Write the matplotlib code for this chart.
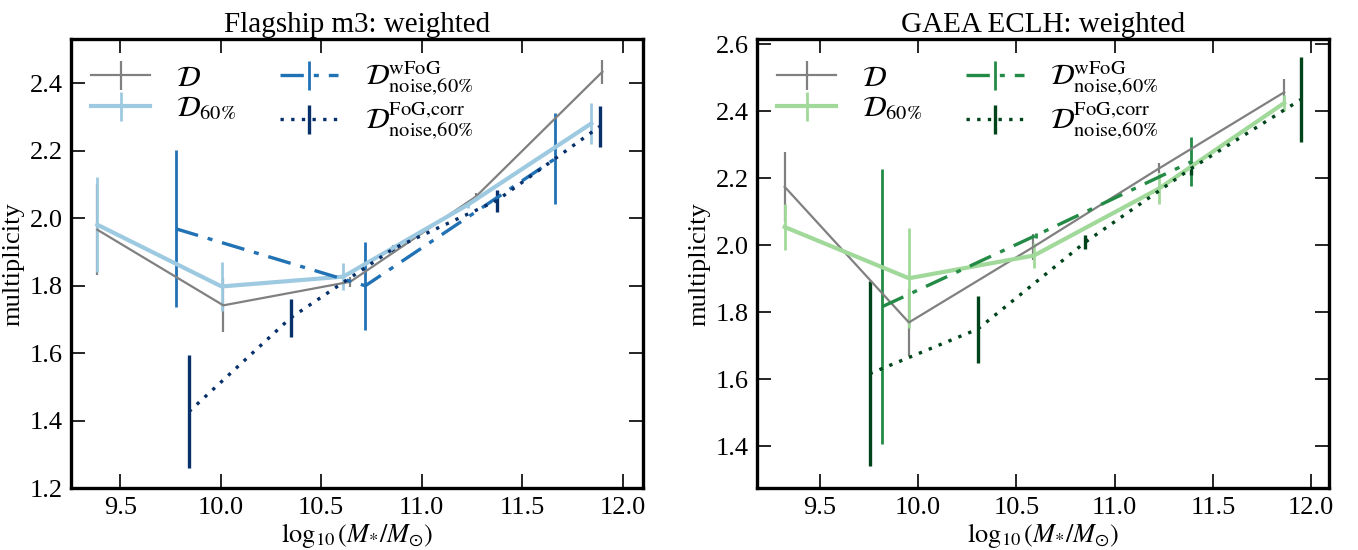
import matplotlib
matplotlib.use("Agg")
import matplotlib.pyplot as plt

plt.rcParams['font.family'] = 'serif'
plt.rcParams['font.serif'] = ['Liberation Serif', 'DejaVu Serif']
plt.rcParams['mathtext.fontset'] = 'stix'

# Flagship m3 (weighted)
fs_x_D = [9.386, 10.013, 10.645, 11.27, 11.90]
fs_y_D = [1.966, 1.742, 1.812, 2.064, 2.434]
fs_e_D = [0.135, 0.08, 0.015, 0.012, 0.036]

fs_x_D60 = [9.386, 10.004, 10.61, 11.23, 11.845]
fs_y_D60 = [1.981, 1.798, 1.827, 2.04, 2.281]
fs_e_D60 = [0.14, 0.072, 0.04, 0.01, 0.06]

fs_x_wfog = [9.776, 10.72, 11.666]
fs_y_wfog = [1.969, 1.80, 2.177]
fs_e_wfog = [0.233, 0.131, 0.135]

fs_x_corr = [9.842, 10.348, 10.86, 11.373, 11.887]
fs_y_corr = [1.427, 1.705, 1.91, 2.052, 2.272]
fs_e_corr = [0.167, 0.056, 0.01, 0.032, 0.062]

# GAEA ECLH (weighted)
ga_x_D = [9.321, 9.953, 10.585, 11.226, 11.862]
ga_y_D = [2.175, 1.77, 1.995, 2.23, 2.457]
ga_e_D = [0.105, 0.1, 0.04, 0.015, 0.04]

ga_x_D60 = [9.321, 9.953, 10.59, 11.226, 11.862]
ga_y_D60 = [2.055, 1.902, 1.97, 2.17, 2.425]
ga_e_D60 = [0.07, 0.15, 0.036, 0.045, 0.025]

ga_x_wfog = [9.817, 10.60, 11.39]
ga_y_wfog = [1.817, 2.03, 2.25]
ga_e_wfog = [0.41, 0.008, 0.074]

ga_x_corr = [9.753, 10.303, 10.851, 11.39, 11.946]
ga_y_corr = [1.617, 1.75, 2.01, 2.23, 2.435]
ga_e_corr = [0.276, 0.1, 0.022, 0.02, 0.127]

labels = [r'$\mathcal{D}$', r'$\mathcal{D}_{60\%}$',
          r'$\mathcal{D}^{\rm wFoG}_{\rm noise{,}60\%}$',
          r'$\mathcal{D}^{\rm FoG{,}corr}_{\rm noise{,}60\%}$']

fig = plt.figure(figsize=(13.58, 5.5), dpi=100)
ax1 = fig.add_axes([0.0523, 0.1122, 0.4212, 0.8162])
ax2 = fig.add_axes([0.5574, 0.1122, 0.4212, 0.8162])


def panel(ax, data, colors, title, xlim, ylim, yticks):
    (xD, yD, eD), (x60, y60, e60), (xw, yw, ew), (xc, yc, ec) = data
    h = []
    h.append(ax.errorbar(xD, yD, yerr=eD, color='gray', lw=1.6, elinewidth=1.6))
    h.append(ax.errorbar(x60, y60, yerr=e60, color=colors[0], lw=3.0, elinewidth=2.0))
    h.append(ax.errorbar(xw, yw, yerr=ew, color=colors[1], lw=2.4, elinewidth=2.0,
                         linestyle=(0, (7, 3, 1.5, 3))))
    h.append(ax.errorbar(xc, yc, yerr=ec, color=colors[2], lw=2.4, elinewidth=2.4,
                         linestyle=(0, (1, 2.2))))
    ax.set_xlim(*xlim)
    ax.set_ylim(*ylim)
    ax.set_xticks([9.5, 10.0, 10.5, 11.0, 11.5, 12.0])
    ax.set_yticks(yticks)
    ax.tick_params(direction='in', top=True, right=True, length=10, width=1.2,
                   labelsize=19, pad=6)
    for s in ax.spines.values():
        s.set_linewidth(2.4)
    ax.set_title(title, fontsize=21, pad=5)
    ax.set_xlabel(r'$\log_{10}(M_{*}/M_{\odot})$', fontsize=19, labelpad=2)
    ax.set_ylabel('multiplicity', fontsize=19, labelpad=4)
    ax.legend(h, labels, loc='upper left', ncol=2, frameon=False, fontsize=21,
              handlelength=2.0, columnspacing=1.5, labelspacing=0.1,
              borderaxespad=0.3, handletextpad=0.9)


panel(ax1,
      [(fs_x_D, fs_y_D, fs_e_D), (fs_x_D60, fs_y_D60, fs_e_D60),
       (fs_x_wfog, fs_y_wfog, fs_e_wfog), (fs_x_corr, fs_y_corr, fs_e_corr)],
      ['#9ecae1', '#2171b5', '#08306b'], 'Flagship m3: weighted',
      (9.255, 12.102), (1.2, 2.53), [1.2, 1.4, 1.6, 1.8, 2.0, 2.2, 2.4])

panel(ax2,
      [(ga_x_D, ga_y_D, ga_e_D), (ga_x_D60, ga_y_D60, ga_e_D60),
       (ga_x_wfog, ga_y_wfog, ga_e_wfog), (ga_x_corr, ga_y_corr, ga_e_corr)],
      ['#a1d99b', '#238b45', '#00441b'], 'GAEA ECLH: weighted',
      (9.18, 12.09), (1.275, 2.615), [1.4, 1.6, 1.8, 2.0, 2.2, 2.4, 2.6])

fig.savefig('out.png', dpi=100)
